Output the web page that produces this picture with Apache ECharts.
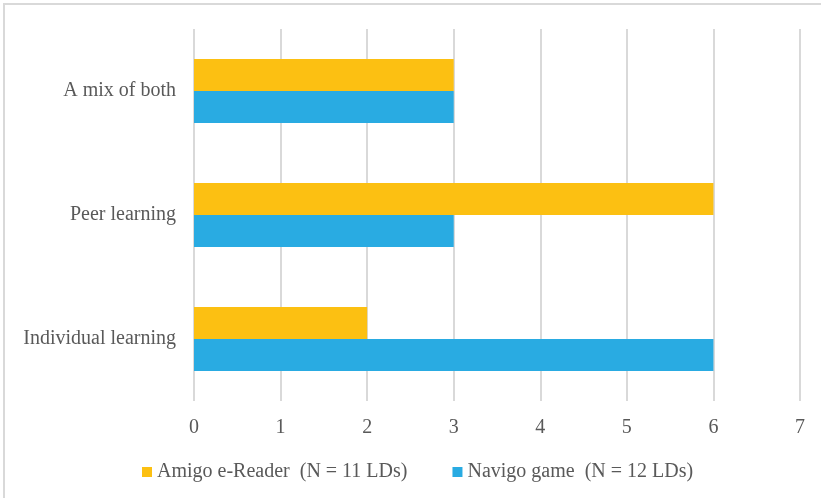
<!DOCTYPE html>
<html>
<head>
<meta charset="utf-8">
<script src="https://cdn.jsdelivr.net/npm/echarts@6/dist/echarts.min.js"></script>
<style>
  html, body { margin: 0; padding: 0; background: #fff; }
  #chart { width: 821px; height: 498px; }
</style>
</head>
<body>
<div id="chart"></div>
<script>
// categories bottom -> top
var categories = ['Individual learning', 'Peer learning', 'A mix of both'];
var amigoValues = [2, 6, 3];
var navigoValues = [6, 3, 3];
var amigoName = 'Amigo e-Reader  (N = 11 LDs)';
var navigoName = 'Navigo game  (N = 12 LDs)';

var textColor = '#595959';
var fontFamily = '"Liberation Serif", "Times New Roman", serif';

var chart = echarts.init(document.getElementById('chart'));
chart.setOption({
  backgroundColor: '#fff',
  animation: false,
  graphic: [{
    type: 'rect',
    shape: { x: 4, y: 4, width: 900, height: 600 },
    style: { fill: 'none', stroke: '#d9d9d9', lineWidth: 2 },
    silent: true
  }],
  grid: {
    left: 194,
    right: 21,
    top: 29,
    bottom: 97
  },
  legend: {
    data: [amigoName, navigoName],
    left: 137,
    top: 457,
    itemWidth: 10,
    itemHeight: 10,
    itemGap: 45,
    icon: 'rect',
    textStyle: { color: textColor, fontSize: 20, fontFamily: fontFamily }
  },
  xAxis: {
    type: 'value',
    min: 0,
    max: 7,
    interval: 1,
    axisLine: { show: false },
    axisTick: { show: false },
    axisLabel: { color: textColor, fontSize: 20, fontFamily: fontFamily, margin: 17 },
    splitLine: { lineStyle: { color: '#d9d9d9', width: 2 } }
  },
  yAxis: {
    type: 'category',
    data: categories,
    axisLine: { show: false },
    axisTick: { show: false },
    axisLabel: { color: textColor, fontSize: 20, fontFamily: fontFamily, margin: 18, padding: [4, 0, 0, 0] }
  },
  // first series is drawn on top within each group
  series: [
    {
      name: amigoName,
      type: 'bar',
      data: amigoValues,
      barWidth: 32,
      barGap: '0%',
      itemStyle: { color: '#FCC012' }
    },
    {
      name: navigoName,
      type: 'bar',
      data: navigoValues,
      barWidth: 32,
      barGap: '0%',
      itemStyle: { color: '#29ABE2' }
    }
  ]
});
</script>
</body>
</html>
